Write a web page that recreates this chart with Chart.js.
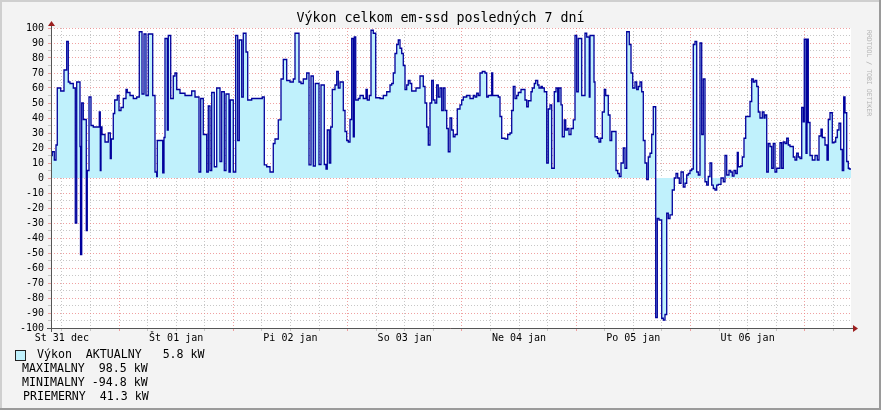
<!DOCTYPE html>
<html>
<head>
<meta charset="utf-8">
<title>Výkon celkom em-ssd</title>
<script src="https://cdn.jsdelivr.net/npm/chart.js@4.4.1/dist/chart.umd.min.js"></script>
<style>
  html, body { margin: 0; padding: 0; background: #f3f3f3; }
  canvas { display: block; }
</style>
</head>
<body>
<canvas id="graf" width="881" height="410"></canvas>
<script>
// time in hours since St 31 dec 00:00, each value holds until the next time
const times = [
  9.72, 9.99, 10.41, 10.77, 11.04, 11.76, 12.45, 13.02, 13.35, 13.71, 14.40, 14.82, 15.12, 15.81, 15.92, 16.17,
  16.50, 17.13, 17.34, 17.70, 18.12, 18.60, 19.86, 20.07, 20.22, 20.43, 21.06, 21.75, 22.17, 22.38, 22.80, 23.10,
  23.64, 24.00, 24.42, 24.90, 25.47, 25.74, 26.31, 27.00, 27.72, 28.26, 28.83, 29.25, 29.67, 30.15, 31.08, 31.56,
  31.92, 32.04, 33.18, 33.45, 33.66, 34.14, 34.35, 34.86, 35.40, 35.76, 36.12, 36.81, 37.86, 39.27, 39.96, 40.80,
  41.16, 41.70, 42.42, 42.75, 43.11, 43.47, 44.01, 44.52, 45.21, 45.57, 46.11, 46.47, 47.10, 47.37, 48.00, 48.51,
  48.93, 49.26, 49.77, 50.10, 50.67, 51.03, 51.87, 54.09, 54.51, 55.02, 55.71, 56.40, 56.76, 57.45, 58.02, 58.50,
  59.22, 59.91, 60.60, 60.96, 61.80, 62.22, 62.70, 63.42, 63.90, 64.32, 64.80, 65.22, 66.00, 66.42, 67.11, 67.47,
  67.74, 68.16, 68.46, 68.79, 69.36, 69.72, 70.05, 70.41, 71.10, 71.46, 71.82, 72.15, 72.51, 72.87, 73.20, 73.41,
  73.71, 74.25, 74.61, 75.30, 75.87, 76.14, 76.56, 76.92, 77.40, 77.91, 78.81, 79.50, 80.22, 80.91, 81.27, 81.60,
  81.96, 82.32, 82.65, 83.01, 83.37, 83.70, 84.06, 84.42, 84.75, 85.11, 85.47, 86.37, 87.21, 87.90, 88.26, 88.62,
  88.95, 89.31, 89.67, 90.00, 90.36, 90.72, 91.05, 91.41, 91.77, 92.10, 92.46, 92.82, 93.15, 93.51, 93.87, 94.20,
  94.56, 95.04, 95.61, 95.97, 96.30, 97.02, 97.71, 98.40, 98.76, 99.12, 99.45, 99.81, 100.29, 100.86, 101.22, 101.55,
  102.27, 102.48, 103.65, 104.01, 104.37, 105.06, 105.63, 106.11, 106.47, 106.80, 107.16, 107.52, 107.85, 108.42, 109.26, 109.62,
  109.95, 110.52, 110.79, 111.21, 111.51, 111.93, 112.20, 112.62, 112.89, 113.31, 113.82, 114.15, 114.51, 114.87, 115.41, 115.77,
  116.13, 116.40, 116.82, 117.09, 117.51, 117.81, 118.14, 118.50, 118.92, 119.40, 119.76, 120.12, 120.45, 121.17, 121.86, 122.22,
  122.76, 122.91, 123.75, 123.96, 124.44, 124.80, 125.16, 125.49, 125.91, 126.21, 126.75, 127.11, 127.47, 128.37, 128.73, 129.06,
  129.42, 129.90, 130.26, 130.62, 131.16, 131.52, 131.88, 132.36, 132.72, 133.05, 133.41, 133.77, 134.10, 134.46, 134.82, 135.15,
  135.51, 135.87, 136.20, 136.71, 137.04, 137.40, 137.97, 138.30, 138.66, 139.02, 139.35, 139.71, 140.19, 140.61, 140.97, 141.33,
  141.66, 142.02, 142.50, 142.86, 143.22, 143.55, 143.91, 144.27, 144.60, 144.96, 145.32, 145.65, 146.01, 146.37, 146.70, 147.06,
  147.42, 147.75, 148.11, 148.47, 148.80, 149.16, 149.52, 149.85, 150.42, 150.90, 151.26, 151.62, 152.10, 152.46, 152.79, 153.15,
  153.51, 153.84, 154.05, 154.56, 154.89, 155.25, 155.61, 156.51, 156.87, 157.20, 157.56, 157.92, 158.25, 158.61, 159.09, 159.45,
  159.66, 160.02, 160.35, 160.71, 161.07, 161.40, 161.76, 162.12, 162.81, 163.17, 163.50, 163.86, 164.22, 164.55, 164.91, 165.60,
  165.96, 166.32, 166.65, 167.01, 167.37, 167.70, 167.91, 168.27, 168.48, 168.75, 169.11, 169.59, 170.16, 170.64, 171.00, 171.42,
  171.69, 172.26, 172.68, 172.95, 173.31, 173.79, 174.15, 174.51, 174.84, 175.20, 175.56, 175.89, 176.19, 176.46, 176.82, 177.15,
  177.36, 177.72
];

// Výkon in kW
const values = [
  15, 17.5, 12, 22, 60, 58, 72, 91, 64, 63, 60, -30, 64, 21, -51, 50,
  39, -35, 5, 54, 35, 34, 44, 5, 34, 29, 24, 30, 13, 26, 43, 52,
  55, 45, 47, 53, 59, 57, 55, 53, 54, 97.5, 56, 96, 55, 96, 55, 4,
  1, 25, 3.5, 27, 93, 32, 95, 53, 68, 70, 59, 56.5, 55, 58, 54, 4,
  53, 29, 4, 48, 5, 57, 7.5, 60, 11, 57.5, 5, 56, 4, 52, 4, 95,
  25, 92, 54, 96.5, 84, 52, 53, 54, 8.7, 7.5, 4, 23, 26, 38.7, 66, 79,
  65, 64, 66, 96.5, 64, 63, 66, 70, 8.7, 68, 8, 63, 9, 62, 9, 6,
  32, 10, 34, 59, 62, 71, 60, 64, 45, 31, 25, 24, 39, 93, 27.5, 94,
  52, 53, 55, 53, 59, 52, 55, 98.5, 96.5, 53.5, 53, 55, 57.5, 62, 63, 70,
  83, 89, 92, 86.5, 83, 75, 59, 62, 65, 63, 58, 60, 68, 61, 50, 34,
  22, 50, 65, 52, 50, 62, 54, 60, 45, 60, 45, 33, 17.5, 40, 32, 27.5,
  29, 46, 48.7, 52, 54, 55, 53, 55, 54, 56.5, 55, 70, 71, 70, 54, 55,
  70, 55, 54, 41, 26.5, 26, 29, 30, 45, 61, 53, 55, 57, 59, 52, 47.5,
  51.5, 57.5, 60, 63, 65, 62, 60, 61, 60, 57.5, 10, 46, 48.7, 6.5, 57.5, 60,
  51, 60, 48.7, 27.5, 38.7, 32, 33, 29, 33, 38.7, 95, 57.5, 93, 55, 96.5, 94,
  54, 95, 64, 27.5, 26.5, 24, 26.5, 44, 59, 55, 42, 25, 31, 5, 3, 1,
  10, 20, 6.5, 97.5, 89, 70, 60, 64, 59, 61, 64, 57.5, 25, 10, -1, 14,
  16.5, 29, 47.5, -93, -27, -28, -93.5, -94.8, -91, -23.5, -27, -24.6, -8, 0, 3, 0,
  -3.5, 4, -6, -3.5, 2, 3, 5, 6, 89, 91, 4, 2, 90, 29, 66, -2.5,
  -4.7, 1, 10, -4.7, -7, -8, -4.7, -4.2, 0, -2.5, 15, 2, 5, 4, 1.3, 5,
  3, 17, 7.5, 8, 14, 26.5, 41, 51, 66, 64, 65, 61, 44, 40, 44, 40,
  42, 4, 23, 21, 6.5, 23, 4, 6.5, 23.5, 6.5, 24, 23, 26.5, 22, 21, 14,
  12, 16.5, 14, 13, 47, 37.5, 92.5, 16.5, 92.5, 37, 15, 12, 15, 12, 28, 32.5,
  27, 22, 12, 39, 43.5, 23.5, 24, 27, 32, 36.5, 19, 5, 54, 43.5, 11, 6.5,
  6, 5.8
];

// labels at noon of each day
const dayLabels = ['St 31 dec', 'Št 01 jan', 'Pi 02 jan', 'So 03 jan', 'Ne 04 jan', 'Po 05 jan', 'Ut 06 jan'];
const xStart = 9.72;
const xEnd = 177.72;
const yMin = -100;
const yMax = 100;

const title = 'Výkon celkom em-ssd posledných 7 dní';
const legendLines = [
    'Výkon  AKTUALNY   5.8 kW',
    'MAXIMALNY  98.5 kW',
    'MINIMALNY -94.8 kW',
    'PRIEMERNY  41.3 kW'
];

const MONO = "'DejaVu Sans Mono', monospace";
const FILL = '#c0f1fc';
const LINE = '#00009c';
const MAJOR = 'rgba(235, 130, 130, 0.75)';
const MINOR = 'rgba(175, 175, 175, 0.7)';

// background, frame, axes, arrows, texts
const rrdDecor = {
    id: 'rrdDecor',
    beforeDraw(chart) {
        const { ctx, chartArea: a } = chart;
        ctx.save();
        ctx.fillStyle = '#f3f3f3';
        ctx.fillRect(0, 0, chart.width, chart.height);
        ctx.fillStyle = '#ffffff';
        ctx.fillRect(a.left, a.top, a.right - a.left, a.bottom - a.top);
        ctx.restore();
    },
    afterDraw(chart) {
        const { ctx, chartArea: a } = chart;
        const W = chart.width, H = chart.height;
        ctx.save();

        // 3d frame
        ctx.fillStyle = '#cfcfcf';
        ctx.fillRect(0, 0, W, 2);
        ctx.fillRect(0, 0, 2, H);
        ctx.fillStyle = '#9a9a9a';
        ctx.fillRect(W - 2, 0, 2, H);
        ctx.fillRect(0, H - 2, W, 2);

        // axes
        ctx.strokeStyle = '#555555';
        ctx.lineWidth = 1;
        ctx.beginPath();
        ctx.moveTo(a.left - 4, a.bottom + 0.5);
        ctx.lineTo(a.right + 3, a.bottom + 0.5);
        ctx.moveTo(a.left + 0.5, a.bottom + 4);
        ctx.lineTo(a.left + 0.5, a.top - 4);
        ctx.stroke();

        // arrows
        ctx.fillStyle = '#9c1f1f';
        ctx.beginPath();
        ctx.moveTo(a.right + 7, a.bottom + 0.5);
        ctx.lineTo(a.right + 2, a.bottom - 3);
        ctx.lineTo(a.right + 2, a.bottom + 4);
        ctx.closePath();
        ctx.fill();
        ctx.beginPath();
        ctx.moveTo(a.left + 0.5, a.top - 7);
        ctx.lineTo(a.left - 3, a.top - 2);
        ctx.lineTo(a.left + 4, a.top - 2);
        ctx.closePath();
        ctx.fill();

        // title
        ctx.fillStyle = '#000000';
        ctx.font = '13.3px ' + MONO;
        ctx.textAlign = 'center';
        ctx.textBaseline = 'alphabetic';
        ctx.fillText(title, W / 2, 22);

        // legend
        ctx.textAlign = 'left';
        ctx.font = '11.6px ' + MONO;
        ctx.fillStyle = FILL;
        ctx.fillRect(16, 351, 9, 9);
        ctx.strokeStyle = '#222222';
        ctx.strokeRect(15.5, 350.5, 10, 10);
        ctx.fillStyle = '#000000';
        ctx.fillText(legendLines[0], 37, 358);
        ctx.fillText(legendLines[1], 22, 372);
        ctx.fillText(legendLines[2], 22, 386);
        ctx.fillText(legendLines[3], 23, 399.5);

        // watermark
        ctx.translate(866, 30);
        ctx.rotate(Math.PI / 2);
        ctx.font = '6.5px ' + MONO;
        ctx.fillStyle = '#b4b4b4';
        ctx.textBaseline = 'middle';
        ctx.fillText('RRDTOOL / TOBI OETIKER', 0, -3);
        ctx.restore();
    }
};

const ctx = document.getElementById('graf').getContext('2d');
new Chart(ctx, {
    type: 'line',
    data: {
        datasets: [{
            data: times.map((t, i) => ({ x: t, y: values[i] })),
            stepped: true,
            fill: 'origin',
            backgroundColor: FILL,
            borderColor: LINE,
            borderWidth: 1.3,
            pointRadius: 0,
            tension: 0
        }]
    },
    options: {
        responsive: false,
        animation: false,
        devicePixelRatio: 1,
        layout: { padding: { top: 28, right: 30, left: 0, bottom: 0 } },
        plugins: {
            legend: { display: false },
            title: { display: false },
            tooltip: { enabled: false }
        },
        scales: {
            x: {
                type: 'linear',
                min: xStart,
                max: xEnd,
                z: 1,
                afterFit(scale) { scale.height = 82; },
                afterBuildTicks(scale) {
                    const ticks = [];
                    for (let h = 12; h < xEnd; h += 6) ticks.push({ value: h });
                    scale.ticks = ticks;
                },
                grid: {
                    color: c => (c.tick && c.tick.value % 24 === 0 ? MAJOR : MINOR),
                    tickColor: c => (c.tick && c.tick.value % 24 === 0 ? MAJOR : MINOR),
                    lineWidth: 1,
                    tickLength: 3,
                    tickBorderDash: []
                },
                border: { display: false, dash: [1, 2] },
                ticks: {
                    autoSkip: false,
                    maxRotation: 0,
                    padding: 1,
                    color: '#000000',
                    font: { family: MONO, size: 10 },
                    callback: v => (v % 24 === 12 ? dayLabels[(v - 12) / 24] : '')
                }
            },
            y: {
                min: yMin,
                max: yMax,
                z: 1,
                afterFit(scale) { scale.width = 51; },
                grid: {
                    color: c => (c.tick && c.tick.value % 10 === 0 ? MAJOR : MINOR),
                    tickColor: c => (c.tick && c.tick.value % 10 === 0 ? MAJOR : MINOR),
                    lineWidth: 1,
                    tickLength: 3,
                    tickBorderDash: []
                },
                border: { display: false, dash: [1, 2] },
                ticks: {
                    stepSize: 5,
                    autoSkip: false,
                    padding: 4,
                    color: '#000000',
                    font: { family: MONO, size: 10 },
                    callback: v => (v % 10 === 0 ? String(v) : '')
                }
            }
        }
    },
    plugins: [rrdDecor]
});
</script>
</body>
</html>
